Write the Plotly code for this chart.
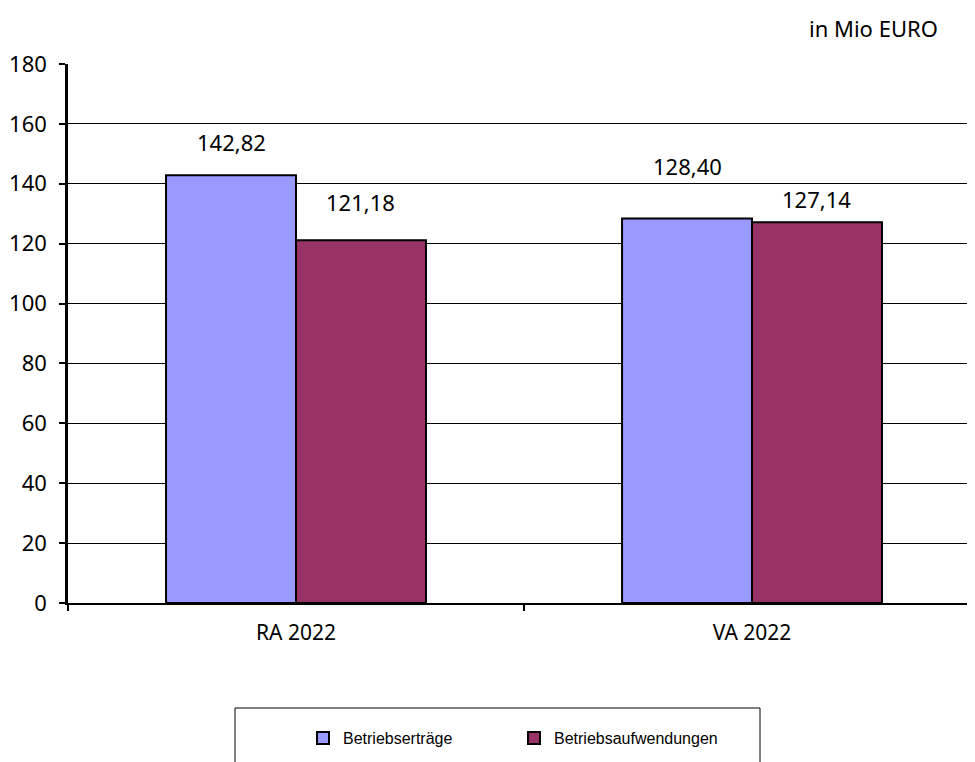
import plotly.graph_objects as go

categories = ["RA 2022", "VA 2022"]
ertraege = [142.82, 128.40]
aufwendungen = [121.18, 127.14]
series_names = ["Betriebserträge", "Betriebsaufwendungen"]
y_ticks = [0, 20, 40, 60, 80, 100, 120, 140, 160, 180]

# vertical label offsets (px) above bar tops, as placed in the original
label_shift_ertraege = [33, 53]
label_shift_aufw = [38, 23]

BARGAP = 0.43
FONT = "Noto Sans, Lato, sans-serif"

# the page body adds an 8px offset; plot area in window pixels: x 68..975, y 64..603
PX0, PY0, PW, PH = 68, 603, 907, 539
def px(x):
    return (x - PX0) / PW
def py(y):
    return (PY0 - y) / PH

def fmt(v):
    return f"{v:.2f}".replace(".", ",")

fig = go.Figure()
series = [(series_names[0], ertraege, "#9999FF", label_shift_ertraege, -1),
          (series_names[1], aufwendungen, "#993366", label_shift_aufw, 1)]
annotations = []
bar_w = (1 - BARGAP) / 2
for name, vals, color, shifts, side in series:
    fig.add_trace(go.Bar(
        x=categories, y=vals, name=name,
        marker=dict(color=color, line=dict(color="black", width=2)),
    ))
    for i, (v, s) in enumerate(zip(vals, shifts)):
        annotations.append(dict(
            x=i + side * bar_w / 2, y=v, xref="x", yref="y", text=fmt(v),
            showarrow=False, yanchor="middle", xanchor="center", yshift=s,
            font=dict(family=FONT, size=22, color="black")))

annotations.append(dict(text="in Mio EURO", xref="paper", yref="paper",
                        x=px(940), y=py(28),
                        xanchor="right", yanchor="middle", showarrow=False,
                        font=dict(family=FONT, size=22, color="black")))

fig.update_layout(
    width=967, height=754,
    margin=dict(l=60, r=0, t=56, b=159, autoexpand=False),
    paper_bgcolor="white", plot_bgcolor="white",
    barmode="group", bargap=BARGAP, bargroupgap=0,
    font=dict(family=FONT, size=20, color="black"),
    showlegend=True,
    legend=dict(orientation="h", x=px(303), xanchor="left", y=py(738), yanchor="middle",
                entrywidth=166, entrywidthmode="pixels",
                font=dict(family="Liberation Sans, Arial, sans-serif", size=16, color="black"),
                bgcolor="rgba(0,0,0,0)", itemclick=False, traceorder="normal"),
    xaxis=dict(range=[-0.5, 1.489], tickson="boundaries", ticks="outside", ticklen=6,
               tickcolor="black", tickwidth=1.5, showline=True, linecolor="black", linewidth=2,
               showgrid=False, tickfont=dict(family=FONT, size=21), automargin=False,
               ticklabelstandoff=10, fixedrange=True),
    yaxis=dict(range=[0, 180], tickvals=y_ticks, ticks="outside", ticklen=6, tickcolor="black",
               tickwidth=1.5, showline=True, linecolor="black", linewidth=2.5,
               showgrid=True, gridcolor="black", gridwidth=1.3, zeroline=False,
               tickfont=dict(family=FONT, size=22), ticklabelstandoff=8, automargin=False),
    shapes=[dict(type="rect", xref="paper", yref="paper",
                 x0=px(235), x1=px(760), y0=py(708), y1=py(775),
                 line=dict(color="black", width=1), fillcolor="rgba(0,0,0,0)", layer="below")],
    annotations=annotations,
)

fig.write_html("out.html")
